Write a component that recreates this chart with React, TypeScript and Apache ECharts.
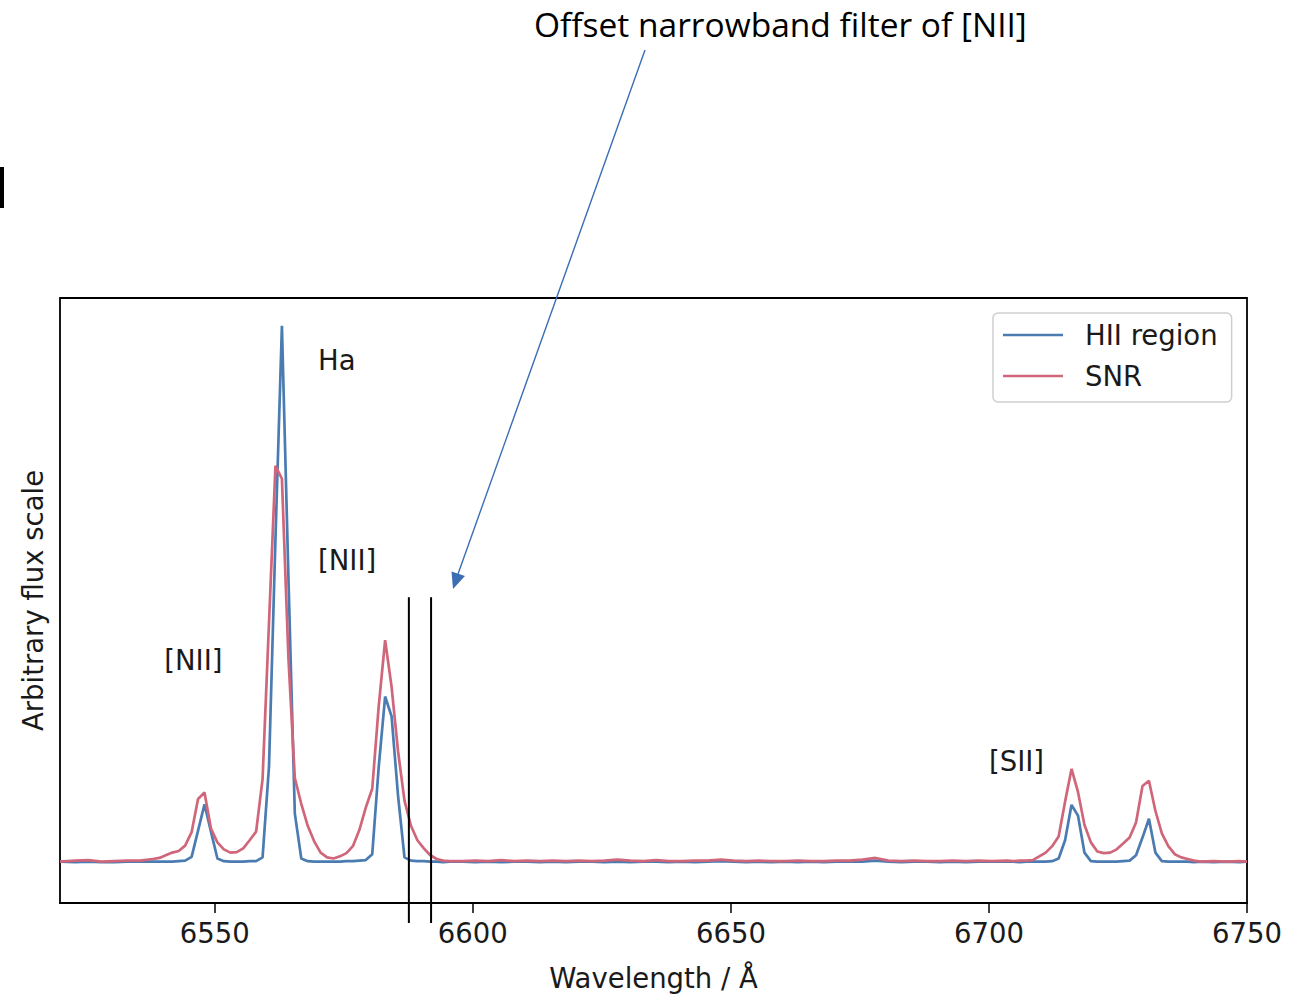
import React, { useEffect, useRef } from "react";
import * as echarts from "echarts";

// Wavelength grid (Å)
const wavelengths: number[] = [
  6520, 6523, 6525.5, 6528, 6530.5, 6533, 6535.5, 6538, 6539.25, 6540.5, 6541.75, 6543, 6544.25,
  6545.5, 6546.75, 6548, 6549.25, 6550.5, 6551.75, 6553, 6554.25, 6555.5, 6556.75,
  6558, 6559.25, 6560.5, 6561.75, 6563, 6564.25, 6565.5, 6566.75, 6568, 6569.25,
  6570.5, 6571.75, 6573, 6574.25, 6575.5, 6576.75, 6578, 6579.25, 6580.5, 6581.75,
  6583, 6584.25, 6585.5, 6586.75, 6588, 6589.25, 6590.5, 6591.75, 6593, 6594.25, 6595.5,
  6598, 6600.5, 6603, 6605.5, 6608, 6610.5, 6613, 6615.5, 6618, 6620.5, 6623, 6625.5, 6628, 6630.5,
  6633, 6635.5, 6638, 6640.5, 6643, 6645.5, 6648, 6650.5, 6653, 6655.5, 6658, 6660.5, 6663, 6665.5,
  6668, 6670.5, 6673, 6675.5, 6678, 6680.5, 6683, 6685.5, 6688, 6690.5, 6693, 6695.5, 6698, 6700.5,
  6703.5, 6704.75, 6706, 6707.25, 6708.5, 6709.75, 6711, 6712.25, 6713.5, 6714.75, 6716, 6717.25,
  6718.5, 6719.75, 6721, 6722.25, 6723.5, 6724.75, 6726, 6727.25, 6728.5, 6729.75, 6731, 6732.25,
  6733.5, 6734.75, 6736, 6737.25, 6738.5, 6739.75, 6741,
  6743.5, 6746, 6748.5, 6750,
];

// HII region flux (arbitrary, Hα peak = 1)
const hiiRegion: number[] = [
  0.001, 0.0, 0.001, 0.0, 0.0, 0.001, 0.001, 0.001, 0.001, 0.001, 0.001, 0.002, 0.003,
  0.010, 0.059, 0.108, 0.057, 0.007, 0.002, 0.001, 0.001, 0.001, 0.002,
  0.002, 0.009, 0.179, 0.604, 1.0, 0.536, 0.091, 0.007, 0.002, 0.001,
  0.001, 0.001, 0.001, 0.001, 0.002, 0.002, 0.003, 0.004, 0.015, 0.177,
  0.309, 0.272, 0.124, 0.009, 0.003, 0.002, 0.002, 0.001, 0.001, 0.0, 0.001,
  0.001, 0.0, 0.001, 0.0, 0.001, 0.001, 0.0, 0.001, 0.0, 0.001, 0.001, 0.0, 0.001, 0.0,
  0.001, 0.001, 0.0, 0.001, 0.0, 0.001, 0.002, 0.001, 0.0, 0.001, 0.0, 0.001, 0.0, 0.001,
  0.0, 0.001, 0.001, 0.001, 0.003, 0.001, 0.0, 0.001, 0.001, 0.0, 0.001, 0.0, 0.001, 0.001,
  0.001, 0.001, 0.0, 0.001, 0.001, 0.001, 0.001, 0.002, 0.007, 0.041, 0.107, 0.087,
  0.018, 0.002, 0.001, 0.001, 0.001, 0.001, 0.002, 0.003, 0.013, 0.046, 0.081, 0.018,
  0.002, 0.001, 0.001, 0.001, 0.001, 0.0, 0.001,
  0.0, 0.001, 0.0, 0.001,
];

// SNR flux
const snr: number[] = [
  0.001, 0.003, 0.004, 0.001, 0.002, 0.003, 0.003, 0.006, 0.008, 0.013, 0.018, 0.021, 0.031,
  0.056, 0.118, 0.130, 0.063, 0.037, 0.024, 0.018, 0.019, 0.026, 0.041,
  0.057, 0.155, 0.447, 0.739, 0.715, 0.383, 0.157, 0.109, 0.068, 0.039,
  0.018, 0.009, 0.007, 0.011, 0.017, 0.030, 0.060, 0.102, 0.137, 0.290,
  0.414, 0.327, 0.207, 0.115, 0.068, 0.041, 0.026, 0.013, 0.006, 0.003, 0.002,
  0.002, 0.003, 0.002, 0.004, 0.002, 0.003, 0.002, 0.003, 0.002, 0.003, 0.002, 0.003, 0.005, 0.003,
  0.002, 0.004, 0.002, 0.002, 0.003, 0.003, 0.005, 0.003, 0.002, 0.003, 0.002, 0.002, 0.003, 0.002,
  0.002, 0.003, 0.003, 0.005, 0.008, 0.003, 0.002, 0.003, 0.002, 0.002, 0.003, 0.002, 0.003, 0.002,
  0.003, 0.002, 0.003, 0.003, 0.004, 0.011, 0.018, 0.030, 0.048, 0.113, 0.174, 0.131,
  0.070, 0.037, 0.020, 0.017, 0.018, 0.024, 0.035, 0.046, 0.074, 0.142, 0.152, 0.096,
  0.054, 0.030, 0.015, 0.009, 0.006, 0.003, 0.001,
  0.002, 0.001, 0.002, 0.001,
];

const xTicks: number[] = [6550, 6600, 6650, 6700, 6750];
const filterEdges: number[] = [6587.6, 6591.9];
const filterTop = 0.494;
const lineLabels: string[] = ["Ha", "[NII]", "[NII]", "[SII]"];
const labelWavelengths: number[] = [6570.0, 6570.0, 6540.2, 6700.0];
const labelLevels: number[] = [0.937, 0.564, 0.377, 0.189];

const X_MIN = 6520;
const X_MAX = 6750;
const Y_MIN = -0.076;
const Y_MAX = 1.052;

const BLUE = "#4a7bb1";
const RED = "#d0667a";
const FONT = "DejaVu Sans";
const FS = 27.5;

export default function App() {
  const ref = useRef<HTMLDivElement>(null);

  useEffect(() => {
    const el = ref.current;
    if (!el) return;
    const chart = echarts.init(el, null, { renderer: "svg" });

    const option: any = {
      animation: false,
      backgroundColor: "#ffffff",
      grid: {
        left: 60,
        right: 62,
        top: 298,
        bottom: 89,
        show: true,
        borderColor: "#000",
        borderWidth: 1.8,
        backgroundColor: "transparent",
      },
      legend: {
        orient: "vertical",
        left: 993,
        top: 313,
        padding: [7, 14, 11, 10],
        itemWidth: 60,
        itemHeight: 2.5,
        itemGap: 11,
        icon: "rect",
        selectedMode: false,
        backgroundColor: "#ffffff",
        borderColor: "#cfcfcf",
        borderWidth: 1.5,
        borderRadius: 5,
        textStyle: {
          fontFamily: FONT,
          fontSize: FS,
          color: "#1a1a1a",
          lineHeight: 30,
          padding: [0, 0, 0, 17],
        },
        data: ["HII region", "SNR"],
      },
      xAxis: {
        type: "value",
        min: X_MIN,
        max: X_MAX,
        name: "Wavelength / Å",
        nameLocation: "middle",
        nameGap: 61,
        nameTextStyle: { fontFamily: FONT, fontSize: FS, color: "#1a1a1a" },
        axisLine: { show: true, onZero: false, lineStyle: { color: "#000", width: 1.8 } },
        axisTick: {
          show: true,
          length: 10,
          inside: false,
          customValues: xTicks,
          lineStyle: { color: "#000", width: 1.5 },
        },
        axisLabel: {
          show: true,
          customValues: xTicks,
          margin: 16,
          fontFamily: FONT,
          fontSize: FS,
          color: "#1a1a1a",
          formatter: (v: number) => String(v),
        },
        splitLine: { show: false },
      },
      yAxis: {
        type: "value",
        min: Y_MIN,
        max: Y_MAX,
        name: "Arbitrary flux scale",
        nameLocation: "middle",
        nameRotate: 90,
        nameGap: 13,
        nameTextStyle: { fontFamily: FONT, fontSize: FS, color: "#1a1a1a" },
        axisLine: { show: false },
        axisTick: { show: false },
        axisLabel: { show: false },
        splitLine: { show: false },
      },
      series: [
        {
          name: "HII region",
          type: "line",
          data: wavelengths.map((w, i) => [w, hiiRegion[i]]),
          showSymbol: false,
          symbol: "none",
          color: BLUE,
          lineStyle: { color: BLUE, width: 2.7 },
          silent: true,
          z: 2,
        },
        {
          name: "SNR",
          type: "line",
          data: wavelengths.map((w, i) => [w, snr[i]]),
          showSymbol: false,
          symbol: "none",
          color: RED,
          lineStyle: { color: RED, width: 2.7 },
          silent: true,
          z: 3,
        },
      ],
    };
    chart.setOption(option);

    const px = (x: number, y: number) =>
      chart.convertToPixel({ gridIndex: 0 } as any, [x, y]) as number[];
    const bottomY = px(X_MIN, Y_MIN)[1];

    const graphics: any[] = [];
    filterEdges.forEach((w) => {
      const top = px(w, filterTop);
      graphics.push({
        type: "line",
        shape: { x1: top[0], y1: top[1], x2: top[0], y2: bottomY + 20 },
        style: { stroke: "#000", lineWidth: 2 },
        z: 10,
      });
    });
    lineLabels.forEach((t, i) => {
      const p = px(labelWavelengths[i], labelLevels[i]);
      graphics.push({
        type: "text",
        x: p[0],
        y: p[1],
        style: {
          text: t,
          fontFamily: FONT,
          fontSize: FS,
          fill: "#1a1a1a",
          align: "left",
          verticalAlign: "middle",
        },
        z: 10,
      });
    });
    // Annotation title and arrow
    graphics.push({
      type: "text",
      x: 534,
      y: 24,
      style: {
        text: "Offset narrowband filter of [NII]",
        fontFamily: "Open Sans",
        fontSize: 33.5,
        fill: "#000",
        align: "left",
        verticalAlign: "middle",
      },
      z: 10,
    });
    graphics.push({
      type: "line",
      shape: { x1: 645, y1: 50, x2: 458, y2: 574 },
      style: { stroke: "#3b6db4", lineWidth: 1.4 },
      z: 10,
    });
    graphics.push({
      type: "polygon",
      shape: {
        points: [
          [453, 589],
          [465, 576],
          [451.5, 571.5],
        ],
      },
      style: { fill: "#3b6db4" },
      z: 10,
    });
    graphics.push({
      type: "rect",
      shape: { x: 0, y: 167, width: 4, height: 41 },
      style: { fill: "#000" },
      z: 10,
    });

    chart.setOption({ graphic: graphics });

    return () => {
      chart.dispose();
    };
  }, []);

  return (
    <div
      ref={ref}
      style={{ position: "absolute", left: 0, top: 0, width: 1309, height: 997, background: "#fff" }}
    />
  );
}
